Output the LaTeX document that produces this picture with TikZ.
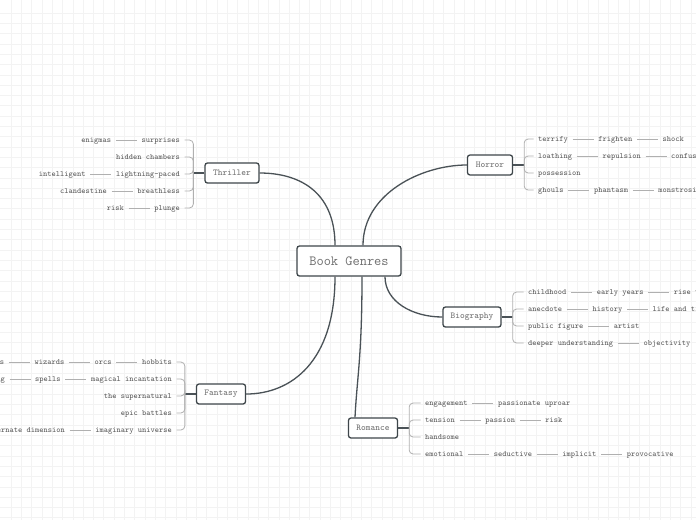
\documentclass[tikz,border=0pt]{standalone}
\usepackage{fontspec}
\usetikzlibrary{positioning,calc}

\definecolor{linkcol}{HTML}{4A5257}
\definecolor{boxcol}{HTML}{3E464A}
\definecolor{topiccol}{HTML}{6E6E6E}
\definecolor{leafcol}{HTML}{585858}
\definecolor{stubcol}{HTML}{B0B0B0}
\definecolor{gridcol}{HTML}{F3F3F3}

\tikzset{
  topic/.style={draw=boxcol, line width=1.3pt, rounded corners=2.5pt, fill=white,
    text=topiccol, font=\ttfamily\fontsize{9}{10}\selectfont, minimum height=20pt, inner xsep=0pt},
  root/.style={topic, font=\ttfamily\fontsize{14}{16}\selectfont, minimum height=30pt, minimum width=104pt},
  leaf/.style={text=leafcol, font=\ttfamily\fontsize{8}{9}\selectfont, inner xsep=4.5pt,
    inner ysep=1pt, text height=6.5pt, text depth=1pt},
  link/.style={draw=linkcol, line width=1.3pt},
  stub/.style={draw=stubcol, line width=0.8pt, rounded corners=4pt},
  chain/.style={draw=stubcol, line width=0.8pt},
}

\begin{document}
\begin{tikzpicture}[x=1pt, y=-1pt]

  % Parameters
  \def\brk{11}   % distance from a topic box to its bracket
  \def\gap{21pt} % length of the line between two words of a row

  \useasboundingbox (0,0) rectangle (696,520);
  \clip (0,0) rectangle (696,520);
  \fill[white] (0,0) rectangle (696,520);

  % --- Background grid ---
  \foreach \gx in {11,21.3,...,696}
    \draw[gridcol, line width=0.6pt] (\gx,0) -- (\gx,520);
  \foreach \gy in {13,23.3,...,520}
    \draw[gridcol, line width=0.6pt] (0,\gy) -- (696,\gy);

  % --- Central topic and main topics ---
  \node[root] (bg) at (349,261) {Book Genres};
  \node[topic, minimum width=54pt] (thr) at (232,173) {Thriller};
  \node[topic, minimum width=45pt] (hor) at (490,165) {Horror};
  \node[topic, minimum width=58pt] (bio) at (472,317) {Biography};
  \node[topic, minimum width=49pt] (fan) at (221,394) {Fantasy};
  \node[topic, minimum width=49pt] (rom) at (373,428) {Romance};

  % --- Links from the centre ---
  \draw[link] ($(bg.north)+(-14,0)$) .. controls +(0,-55) and +(38,0) .. (thr.east);
  \draw[link] ($(bg.north)+(14,0)$) .. controls +(0,-52) and +(-45,0) .. (hor.west);
  \draw[link] ($(bg.south)+(36,0)$) .. controls +(0,25) and +(-30,0) .. (bio.west);
  \draw[link] ($(bg.south)+(-14,0)$) .. controls +(0,85) and +(45,0) .. (fan.east);
  \draw[link] ($(bg.south)+(13,0)$) .. controls +(0,80) and +(2,-40) .. ($(rom.north)+(-18,0)$);

  % --- Thriller ---
  \node[leaf, anchor=east] (thr1b) at (184.5,140) {surprises};
  \node[leaf, left=\gap of thr1b] (thr1a) {enigmas};
  \node[leaf, anchor=east] (thr2) at (184.5,157) {hidden chambers};
  \node[leaf, anchor=east] (thr3b) at (184.5,174) {lightning-paced};
  \node[leaf, left=\gap of thr3b] (thr3a) {intelligent};
  \node[leaf, anchor=east] (thr4b) at (184.5,191) {breathless};
  \node[leaf, left=\gap of thr4b] (thr4a) {clandestine};
  \node[leaf, anchor=east] (thr5b) at (184.5,208) {plunge};
  \node[leaf, left=\gap of thr5b] (thr5a) {risk};
  \draw[link] (thr.west) -- ++(-\brk,0) coordinate (thrB);
  \foreach \c in {thr1b,thr2,thr3b,thr4b,thr5b}
    \draw[stub] (thrB) |- (\c.east);
  \foreach \a/\b in {thr1a/thr1b,thr3a/thr3b,thr4a/thr4b,thr5a/thr5b}
    \draw[chain] (\a) -- (\b);

  % --- Horror ---
  \node[leaf, anchor=west] (hor1a) at (533.5,139) {terrify};
  \node[leaf, right=\gap of hor1a] (hor1b) {frighten};
  \node[leaf, right=\gap of hor1b] (hor1c) {shock};
  \node[leaf, anchor=west] (hor2a) at (533.5,156) {loathing};
  \node[leaf, right=\gap of hor2a] (hor2b) {repulsion};
  \node[leaf, right=\gap of hor2b] (hor2c) {confusion};
  \node[leaf, anchor=west] (hor3) at (533.5,173) {possession};
  \node[leaf, anchor=west] (hor4a) at (533.5,190) {ghouls};
  \node[leaf, right=\gap of hor4a] (hor4b) {phantasm};
  \node[leaf, right=\gap of hor4b] (hor4c) {monstrosity};
  \draw[link] (hor.east) -- ++(\brk,0) coordinate (horB);
  \foreach \c in {hor1a,hor2a,hor3,hor4a}
    \draw[stub] (horB) |- (\c.west);
  \foreach \a/\b in {hor1a/hor1b,hor1b/hor1c,hor2a/hor2b,hor2b/hor2c,hor4a/hor4b,hor4b/hor4c}
    \draw[chain] (\a) -- (\b);

  % --- Biography ---
  \node[leaf, anchor=west] (bio1a) at (523.5,292) {childhood};
  \node[leaf, right=\gap of bio1a] (bio1b) {early years};
  \node[leaf, right=\gap of bio1b] (bio1c) {rise to fame};
  \node[leaf, anchor=west] (bio2a) at (523.5,309) {anecdote};
  \node[leaf, right=\gap of bio2a] (bio2b) {history};
  \node[leaf, right=\gap of bio2b] (bio2c) {life and times};
  \node[leaf, anchor=west] (bio3a) at (523.5,326) {public figure};
  \node[leaf, right=\gap of bio3a] (bio3b) {artist};
  \node[leaf, anchor=west] (bio4a) at (523.5,343) {deeper understanding};
  \node[leaf, right=\gap of bio4a] (bio4b) {objectivity};
  \draw[link] (bio.east) -- ++(\brk,0) coordinate (bioB);
  \foreach \c in {bio1a,bio2a,bio3a,bio4a}
    \draw[stub] (bioB) |- (\c.west);
  \foreach \a/\b in {bio1a/bio1b,bio1b/bio1c,bio2a/bio2b,bio2b/bio2c,bio3a/bio3b,bio4a/bio4b}
    \draw[chain] (\a) -- (\b);

  % --- Fantasy ---
  \node[leaf, anchor=east] (fan1d) at (176.5,362) {hobbits};
  \node[leaf, left=\gap of fan1d] (fan1c) {orcs};
  \node[leaf, left=\gap of fan1c] (fan1b) {wizards};
  \node[leaf, left=\gap of fan1b] (fan1a) {elves};
  \node[leaf, anchor=east] (fan2c) at (176.5,379) {magical incantation};
  \node[leaf, left=\gap of fan2c] (fan2b) {spells};
  \node[leaf, left=\gap of fan2b] (fan2a) {enchanting};
  \node[leaf, anchor=east] (fan3) at (176.5,396) {the supernatural};
  \node[leaf, anchor=east] (fan4) at (176.5,413) {epic battles};
  \node[leaf, anchor=east] (fan5b) at (176.5,430) {imaginary universe};
  \node[leaf, left=\gap of fan5b] (fan5a) {alternate dimension};
  \draw[link] (fan.west) -- ++(-\brk,0) coordinate (fanB);
  \foreach \c in {fan1d,fan2c,fan3,fan4,fan5b}
    \draw[stub] (fanB) |- (\c.east);
  \foreach \a/\b in {fan1a/fan1b,fan1b/fan1c,fan1c/fan1d,fan2a/fan2b,fan2b/fan2c,fan5a/fan5b}
    \draw[chain] (\a) -- (\b);

  % --- Romance ---
  \node[leaf, anchor=west] (rom1a) at (420.5,403) {engagement};
  \node[leaf, right=\gap of rom1a] (rom1b) {passionate uproar};
  \node[leaf, anchor=west] (rom2a) at (420.5,420) {tension};
  \node[leaf, right=\gap of rom2a] (rom2b) {passion};
  \node[leaf, right=\gap of rom2b] (rom2c) {risk};
  \node[leaf, anchor=west] (rom3) at (420.5,437) {handsome};
  \node[leaf, anchor=west] (rom4a) at (420.5,454) {emotional};
  \node[leaf, right=\gap of rom4a] (rom4b) {seductive};
  \node[leaf, right=\gap of rom4b] (rom4c) {implicit};
  \node[leaf, right=\gap of rom4c] (rom4d) {provocative};
  \draw[link] (rom.east) -- ++(\brk,0) coordinate (romB);
  \foreach \c in {rom1a,rom2a,rom3,rom4a}
    \draw[stub] (romB) |- (\c.west);
  \foreach \a/\b in {rom1a/rom1b,rom2a/rom2b,rom2b/rom2c,rom4a/rom4b,rom4b/rom4c,rom4c/rom4d}
    \draw[chain] (\a) -- (\b);
\end{tikzpicture}
\end{document}
